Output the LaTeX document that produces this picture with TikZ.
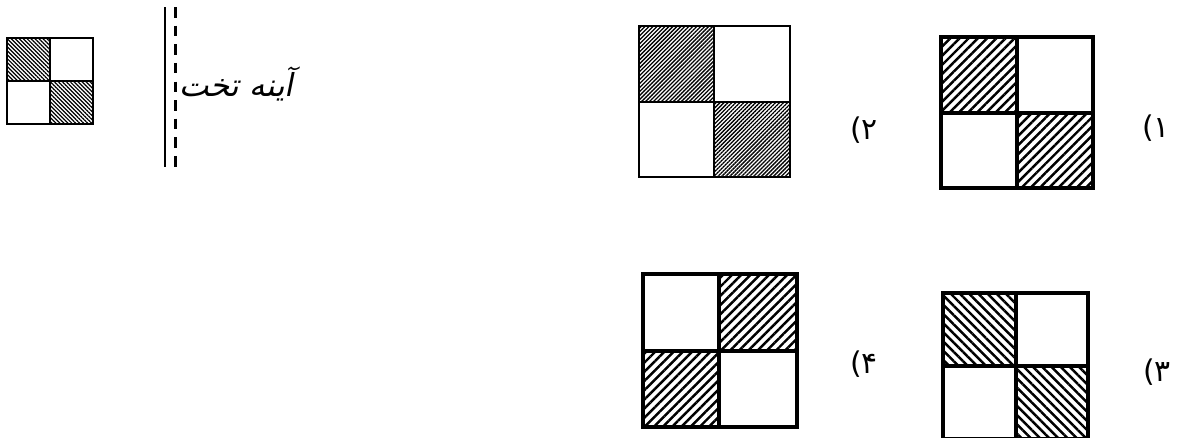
\documentclass[tikz,border=0pt]{standalone}
\usepackage{fontspec}
\usepackage{tikz}
\usetikzlibrary{patterns.meta}
\TeXXeTstate=1
\newfontfamily\persianfont[Script=Arabic,FakeSlant=0.2]{DejaVu Sans}
\newfontfamily\digitfont{DejaVu Sans}
\tikzset{
  gridthin/.style={draw=black, line width=1.1pt},
  gridthick/.style={draw=black, line width=2.3pt},
  hatchcoarse/.style={pattern={Lines[angle=45,distance=3.7pt,line width=1.4pt]}},
  hatchcoarseback/.style={pattern={Lines[angle=-45,distance=3.7pt,line width=1.4pt]}},
  hatchfine/.style={pattern={Lines[angle=45,distance=1.6pt,line width=0.75pt]}},
  hatchfineback/.style={pattern={Lines[angle=-45,distance=1.6pt,line width=0.7pt]}},
  optlabel/.style={font=\digitfont\fontsize{17}{19}\selectfont, inner sep=0pt},
  mirrortext/.style={font=\persianfont\fontsize{18}{20}\selectfont, inner sep=0pt}
}
\begin{document}
\begin{tikzpicture}[x=0.02cm, y=-0.02cm]
\useasboundingbox (0,0) rectangle (1181,437);
\clip (0,0) rectangle (1181,437);

% object seen in the mirror
\fill[hatchfineback] (7,38) rectangle (50,81);
\fill[hatchfineback] (50,81) rectangle (93,124);
\draw[gridthin] (7,38) rectangle (93,124);
\draw[gridthin] (50,38) -- (50,124);
\draw[gridthin] (7,81) -- (93,81);

% plane mirror
\coordinate (mirrortop) at (165,7);
\coordinate (mirrorbottom) at (165,167);
\draw[line width=1.7pt] (mirrortop) -- (mirrorbottom);
\draw[line width=1.7pt, dash pattern=on 6pt off 4.6pt] ([xshift=6]mirrortop) -- ([xshift=6]mirrorbottom);
\node[mirrortext, anchor=west] (mirrorname) at (179,84) {\beginR آینه تخت\endR};

% option 1
\fill[hatchcoarse] (941,37) rectangle (1017,113);
\fill[hatchcoarse] (1017,113) rectangle (1093,188);
\draw[gridthick] (941,37) rectangle (1093,188);
\draw[gridthick] (1017,37) -- (1017,188);
\draw[gridthick] (941,113) -- (1093,113);
\node[optlabel] (labelone) at (1156,128) {(۱};

% option 2
\fill[hatchfine] (639,26) rectangle (714,102);
\fill[hatchfine] (714,102) rectangle (790,177);
\draw[gridthin] (639,26) rectangle (790,177);
\draw[gridthin] (714,26) -- (714,177);
\draw[gridthin] (639,102) -- (790,102);
\node[optlabel] (labeltwo) at (864,130) {(۲};

% option 3
\fill[hatchcoarseback] (943,293) rectangle (1016,366);
\fill[hatchcoarseback] (1016,366) rectangle (1088,439);
\draw[gridthick] (943,293) rectangle (1088,439);
\draw[gridthick] (1016,293) -- (1016,439);
\draw[gridthick] (943,366) -- (1088,366);
\node[optlabel] (labelthree) at (1157,372) {(۳};

% option 4
\fill[hatchcoarse] (719,274) rectangle (797,351);
\fill[hatchcoarse] (643,351) rectangle (719,427);
\draw[gridthick] (643,274) rectangle (797,427);
\draw[gridthick] (719,274) -- (719,427);
\draw[gridthick] (643,351) -- (797,351);
\node[optlabel] (labelfour) at (864,364) {(۴};
\end{tikzpicture}
\end{document}
